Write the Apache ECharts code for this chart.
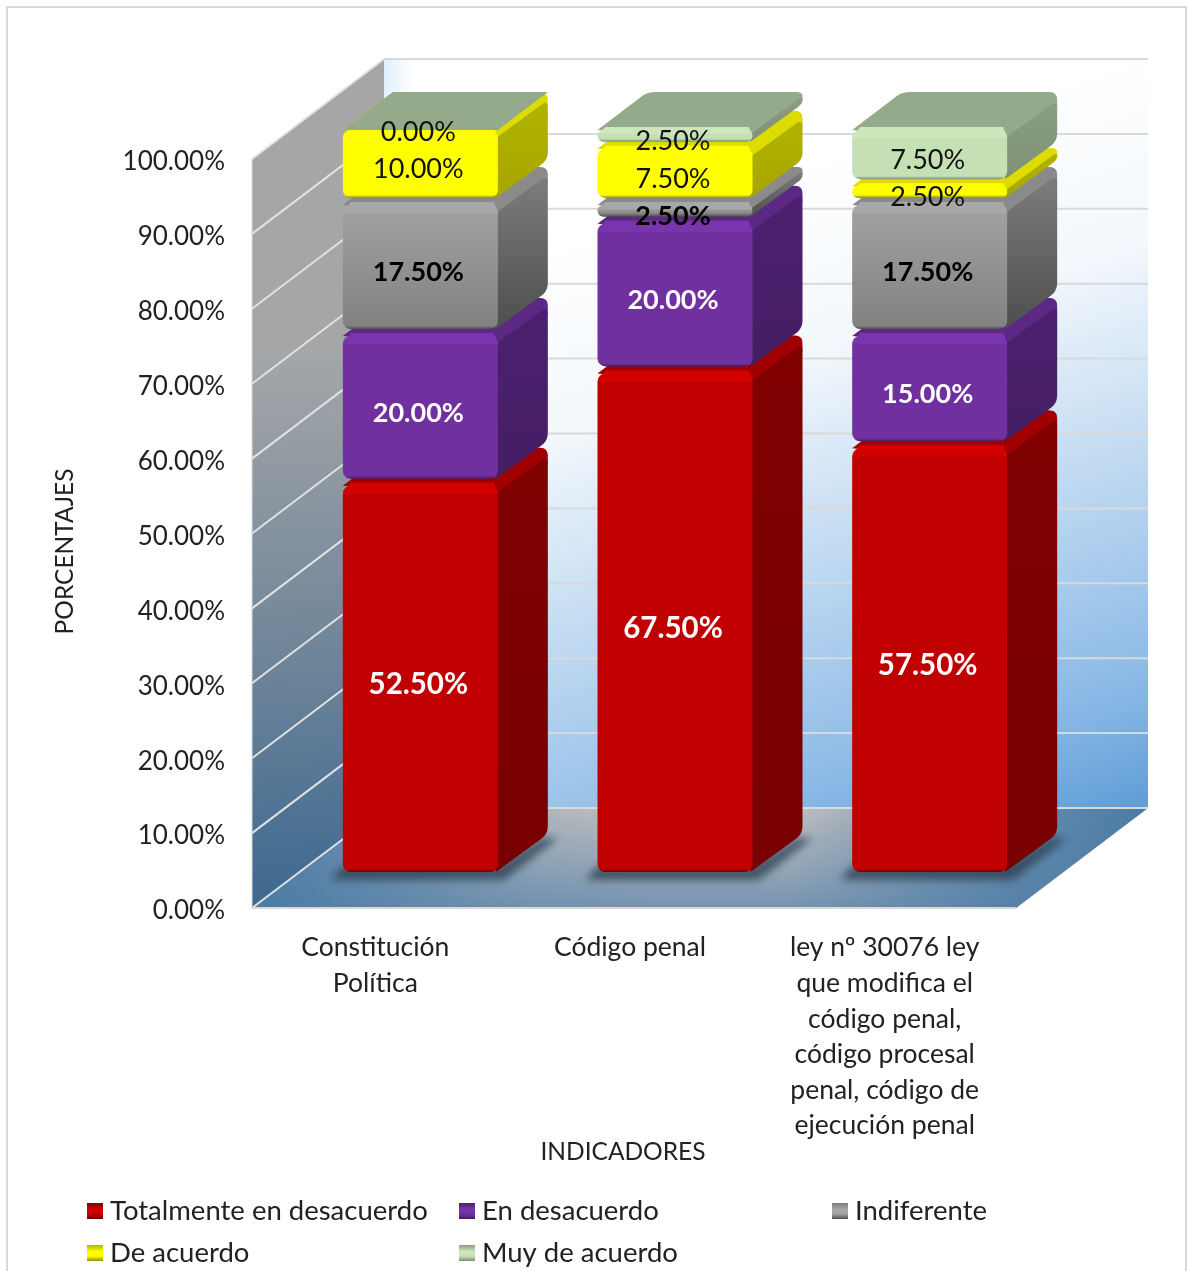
<!DOCTYPE html>
<html>
<head>
<meta charset="utf-8">
<title>Indicadores</title>
<script src="https://cdn.jsdelivr.net/npm/echarts@6/dist/echarts.min.js"></script>
<style>
html,body{margin:0;padding:0;background:#fff;overflow:hidden}
#main{width:1188px;height:1271px}
</style>
</head>
<body>
<div id="main"></div>
<script>
var categorias = ['Constitución\nPolítica', 'Código penal', 'ley nº 30076 ley\nque modifica el\ncódigo penal,\ncódigo procesal\npenal, código de\nejecución penal'];
var totalDesacuerdo = [52.5, 67.5, 57.5];
var enDesacuerdo = [20, 20, 15];
var indiferente = [17.5, 2.5, 17.5];
var deAcuerdo = [10, 7.5, 2.5];
var muyDeAcuerdo = [0, 2.5, 7.5];
var ticks = [0, 10, 20, 30, 40, 50, 60, 70, 80, 90, 100];

var FONT = 'Lato';
var WALL_DX = 132, WALL_DY = -100;   // fondo de la caja 3D
var BAR_DX = 41, BAR_DY = -38;       // desplazamiento de la barra sobre el piso
var DEPTH_X = 50, DEPTH_Y = -38;     // profundidad de la barra
var BAR_W = 155, BEVEL = 9;
var FUERA = 2000;                    // la sombra se dibuja desde fuera para que quede solo el difuminado

var nombres = ['Totalmente en desacuerdo', 'En desacuerdo', 'Indiferente', 'De acuerdo', 'Muy de acuerdo'];
var valores = [totalDesacuerdo, enDesacuerdo, indiferente, deAcuerdo, muyDeAcuerdo];
var estilos = [
    {light: '#d20000', front: '#c00000', front2: '#c00000', dark: '#6e0000', cap: '#a00000', side: '#800000', side2: '#780000', text: '#fff', bold: true, size: 29.5},
    {light: '#7a35ae', front: '#7030a0', front2: '#7030a0', dark: '#431d60', cap: '#5b2884', side: '#4c2070', side2: '#451e63', text: '#fff', bold: true, size: 27},
    {light: '#a8a8a8', front: '#a0a0a0', front2: '#828282', dark: '#4c4c4c', cap: '#8a8a8a', side: '#7c7c7c', side2: '#4e4e4e', text: '#000', bold: true, size: 27},
    {light: '#ffff00', front: '#ffff00', front2: '#ffff00', dark: '#8f8f00', cap: '#dcdc00', side: '#b2b200', side2: '#a6a600', text: '#111', bold: false, size: 27},
    {light: '#cde6bc', front: '#c5e0b4', front2: '#c5e0b4', dark: '#7c8d72', cap: '#95aa8a', side: '#8a9e80', side2: '#7e9174', text: '#111', bold: false, size: 27}
];

// poligono con esquinas redondeadas, r por vertice
function redondear(pts, rs) {
    var out = [];
    var n = pts.length;
    for (var i = 0; i < n; i++) {
        var p = pts[i], a = pts[(i + n - 1) % n], b = pts[(i + 1) % n];
        var r = rs[i];
        if (!r) { out.push(p); continue; }
        var la = Math.hypot(a[0] - p[0], a[1] - p[1]), lb = Math.hypot(b[0] - p[0], b[1] - p[1]);
        var ra = Math.min(r, la / 2) / la, rb = Math.min(r, lb / 2) / lb;
        var s = [p[0] + (a[0] - p[0]) * ra, p[1] + (a[1] - p[1]) * ra];
        var e = [p[0] + (b[0] - p[0]) * rb, p[1] + (b[1] - p[1]) * rb];
        for (var t = 0; t <= 1.001; t += 0.2) {
            out.push([
                (1 - t) * (1 - t) * s[0] + 2 * t * (1 - t) * p[0] + t * t * e[0],
                (1 - t) * (1 - t) * s[1] + 2 * t * (1 - t) * p[1] + t * t * e[1]
            ]);
        }
    }
    return out;
}

function renderCaja(params, api) {
    var a0 = api.coord([0, 0]);
    var top = api.coord([0, 100])[1];
    var size = api.size([1, 0])[0];
    var xl = a0[0] - size / 2, xr = xl + size * categorias.length, yb = a0[1];
    var ch = [];
    var ptsFondo = [[xl + WALL_DX, top + WALL_DY], [xr + WALL_DX, top + WALL_DY], [xr + WALL_DX, yb + WALL_DY], [xl + WALL_DX, yb + WALL_DY]];
    var ptsPiso = [[xl, yb], [xl + WALL_DX, yb + WALL_DY], [xr + WALL_DX, yb + WALL_DY], [xr, yb]];
    // pared izquierda
    ch.push({type: 'polygon', shape: {points: [[xl, top], [xl + WALL_DX, top + WALL_DY], [xl + WALL_DX, yb + WALL_DY], [xl, yb]]},
        style: {fill: {type: 'linear', x: 0.2, y: 0, x2: 0.55, y2: 1, colorStops: [
            {offset: 0, color: '#a6a6a6'}, {offset: 0.35, color: '#a4a6a8'}, {offset: 0.7, color: '#6f8599'}, {offset: 1, color: '#3c6890'}]}}});
    // pared del fondo
    ch.push({type: 'polygon', shape: {points: ptsFondo},
        style: {fill: {type: 'linear', x: 0.5, y: 0.15, x2: 0.8, y2: 1.08, colorStops: [
            {offset: 0, color: '#ffffff'}, {offset: 0.25, color: '#f3f8fc'}, {offset: 0.82, color: '#8bb9e6'}, {offset: 1, color: '#5b9bd5'}]}}});
    ch.push({type: 'polygon', shape: {points: ptsFondo},
        style: {fill: {type: 'linear', x: 0, y: 0, x2: 1, y2: 0, colorStops: [
            {offset: 0, color: 'rgba(190,220,245,0.45)'}, {offset: 0.04, color: 'rgba(190,220,245,0)'}, {offset: 1, color: 'rgba(190,220,245,0)'}]}}});
    // piso
    ch.push({type: 'polygon', shape: {points: ptsPiso},
        style: {fill: {type: 'linear', x: 0, y: 0, x2: 0, y2: 1, colorStops: [{offset: 0, color: '#c0c0c0'}, {offset: 1, color: '#7694b0'}]}}});
    ch.push({type: 'polygon', shape: {points: ptsPiso},
        style: {fill: {type: 'linear', x: 0, y: 0, x2: 1, y2: 0, colorStops: [
            {offset: 0, color: 'rgba(74,123,166,1)'}, {offset: 0.3, color: 'rgba(74,123,166,0.15)'}, {offset: 0.45, color: 'rgba(74,123,166,0)'},
            {offset: 0.6, color: 'rgba(74,123,166,0)'}, {offset: 0.85, color: 'rgba(74,123,166,0.75)'}, {offset: 1, color: 'rgba(74,123,166,1)'}]}}});
    ticks.forEach(function (v) {
        var y = api.coord([0, v])[1];
        ch.push({type: 'line', shape: {x1: xl, y1: y, x2: xl + WALL_DX, y2: y + WALL_DY}, style: {stroke: '#e2e2e2', lineWidth: 2}});
        ch.push({type: 'line', shape: {x1: xl + WALL_DX, y1: y + WALL_DY, x2: xr + WALL_DX, y2: y + WALL_DY}, style: {stroke: '#d9d9d9', lineWidth: 2}});
    });
    ch.push({type: 'line', shape: {x1: xl, y1: top, x2: xl, y2: yb}, style: {stroke: '#d9d9d9', lineWidth: 1}});
    ch.push({type: 'line', shape: {x1: xl, y1: yb, x2: xr, y2: yb}, style: {stroke: '#d9d9d9', lineWidth: 2}});
    // sombras de las barras sobre el piso
    categorias.forEach(function (c, i) {
        var cx = api.coord([i, 0])[0] + BAR_DX - FUERA;
        var x0 = cx - BAR_W / 2, x1 = cx + BAR_W / 2, y = yb + BAR_DY;
        ch.push({type: 'polygon', shape: {points: [[x0 - 12, y + 10], [x1 + 6, y + 10], [x1 + 60, y - 32], [x1 + 44, y - 32], [x1, y - 4], [x0, y - 4]]},
            style: {fill: '#2d3e50', shadowBlur: 8, shadowColor: 'rgba(45,62,80,0.8)', shadowOffsetX: FUERA}});
    });
    return {type: 'group', children: ch};
}

function renderBarra(params, api) {
    var est = estilos[params.seriesIndex - 1];
    var cat = api.value(0), base = api.value(1), tope = api.value(2), val = tope - base;
    var cx = api.coord([cat, 0])[0] + BAR_DX;
    var x0 = cx - BAR_W / 2, x1 = cx + BAR_W / 2;
    var yb = api.coord([cat, base])[1] + BAR_DY + 2;
    var yt = api.coord([cat, tope])[1] + BAR_DY;
    var yf = yt + BEVEL;
    var ch = [];
    if (val > 0) {
        var h = yb - yf;
        var rr = Math.min(8, h / 2);
        var franja = Math.min(8, h * 0.35);
        ch.push({type: 'polygon', shape: {points: redondear([[x0, yf], [x0 + DEPTH_X, yf + DEPTH_Y], [x1 + DEPTH_X, yf + DEPTH_Y], [x1 + DEPTH_X, yf + DEPTH_Y + franja * 2], [x1, yf + franja * 2]], [0, 7, rr, 0, 0])},
            style: {fill: est.cap}});
        ch.push({type: 'polygon', shape: {points: redondear([[x1 - 2, yf + franja], [x1 + DEPTH_X, yf + franja + DEPTH_Y], [x1 + DEPTH_X, yb + DEPTH_Y], [x1 - 2, yb]], [0, rr, rr, 0])},
            style: {fill: {type: 'linear', x: 0, y: 0, x2: 0, y2: 1, colorStops: [{offset: 0, color: est.side}, {offset: 1, color: est.side2}]}}});
        // chaflan del borde superior
        ch.push({type: 'polygon', shape: {points: [[x0, yf + franja], [x0 + 8, yf - 3], [x1 - 4, yf - 3], [x1, yf + franja]]},
            style: {fill: est.light}});
        var band = franja / h;
        var borde = Math.min(0.3, 3 / h);
        ch.push({type: 'rect', shape: {x: x0, y: yf, width: BAR_W, height: h, r: rr},
            style: {fill: {type: 'linear', x: 0, y: 0, x2: 0, y2: 1, colorStops: [
                {offset: 0, color: est.light}, {offset: band, color: est.light}, {offset: band + 0.001, color: est.front},
                {offset: 1 - borde, color: est.front2}, {offset: 1, color: est.dark}]}}});
    } else {
        ch.push({type: 'polygon', shape: {points: [[x0, yf], [x0 + DEPTH_X, yf + DEPTH_Y], [x1 + DEPTH_X, yf + DEPTH_Y], [x1, yf]]},
            style: {fill: est.cap}});
    }
    var txtY = (api.coord([cat, base])[1] + api.coord([cat, tope])[1]) / 2 + BAR_DY + BEVEL + 2;
    ch.push({type: 'text', x: cx - 2, y: txtY, z2: 100, style: {
        text: val.toFixed(2) + '%', fill: est.text, fontFamily: FONT, fontSize: est.size,
        fontWeight: est.bold ? 'bold' : 'normal', align: 'center', verticalAlign: 'middle'}});
    return {type: 'group', children: ch};
}

var series = [{type: 'custom', silent: true, renderItem: renderCaja, data: [[0, 0]], encode: {x: 0, y: 1}, z: 1}];
nombres.forEach(function (nombre, s) {
    var datos = categorias.map(function (c, i) {
        var base = 0;
        for (var k = 0; k < s; k++) base += valores[k][i];
        return [i, base, base + valores[s][i]];
    });
    series.push({name: nombre, type: 'custom', renderItem: renderBarra, data: datos, encode: {x: 0, y: [1, 2]}, z: 2,
        itemStyle: {color: estilos[s].front}});
});

function leyenda(i, left, top) {
    var est = estilos[i];
    return {
        left: left, top: top, padding: 0, icon: 'rect', itemWidth: 16, itemHeight: 16, selectedMode: false,
        textStyle: {fontFamily: FONT, fontSize: 27.5, color: '#222', padding: [0, 0, 0, 2]},
        data: [{name: nombres[i], itemStyle: {borderWidth: 0, color: {type: 'linear', x: 0, y: 0, x2: 0, y2: 1, colorStops: [
            {offset: 0, color: est.side}, {offset: 0.4, color: est.light}, {offset: 0.7, color: est.front}, {offset: 1, color: est.dark}]}}}]
    };
}

var myChart = echarts.init(document.getElementById('main'));
var option = {
    animation: false,
    backgroundColor: '#fff',
    grid: {left: 252, right: 172, top: 159, bottom: 363, containLabel: false},
    graphic: [{type: 'rect', shape: {x: 7, y: 7, width: 1179, height: 1300}, style: {fill: 'none', stroke: '#d9d9d9', lineWidth: 2}, silent: true, z: -10}],
    legend: [leyenda(0, 87, 1197), leyenda(1, 459, 1197), leyenda(2, 832, 1197), leyenda(3, 87, 1239), leyenda(4, 459, 1239)],
    xAxis: {
        type: 'category',
        data: categorias,
        axisLine: {show: false},
        axisTick: {show: false},
        splitLine: {show: false},
        axisLabel: {interval: 0, color: '#222', fontFamily: FONT, fontSize: 26.5, lineHeight: 35.6, margin: 22, padding: [0, 8, 0, 0]},
        name: 'INDICADORES',
        nameLocation: 'middle',
        nameMoveOverlap: false,
        nameGap: 232,
        nameTextStyle: {color: '#222', fontFamily: FONT, fontSize: 24.5, padding: [0, 22, 0, 0]}
    },
    yAxis: {
        type: 'value',
        min: 0,
        max: 100,
        interval: 10,
        axisLine: {show: false},
        axisTick: {show: false},
        splitLine: {show: false},
        axisLabel: {
            margin: 27,
            formatter: function (v) { return '{t|' + v.toFixed(2) + '%}'; },
            rich: {t: {color: '#222', fontFamily: FONT, fontSize: 26, padding: [6, 0, 0, 0]}}
        },
        name: 'PORCENTAJES',
        nameLocation: 'middle',
        nameGap: 174,
        nameTextStyle: {color: '#222', fontFamily: FONT, fontSize: 24.5, padding: [0, 36, 0, 0]}
    },
    series: series
};
myChart.setOption(option);
</script>
</body>
</html>
